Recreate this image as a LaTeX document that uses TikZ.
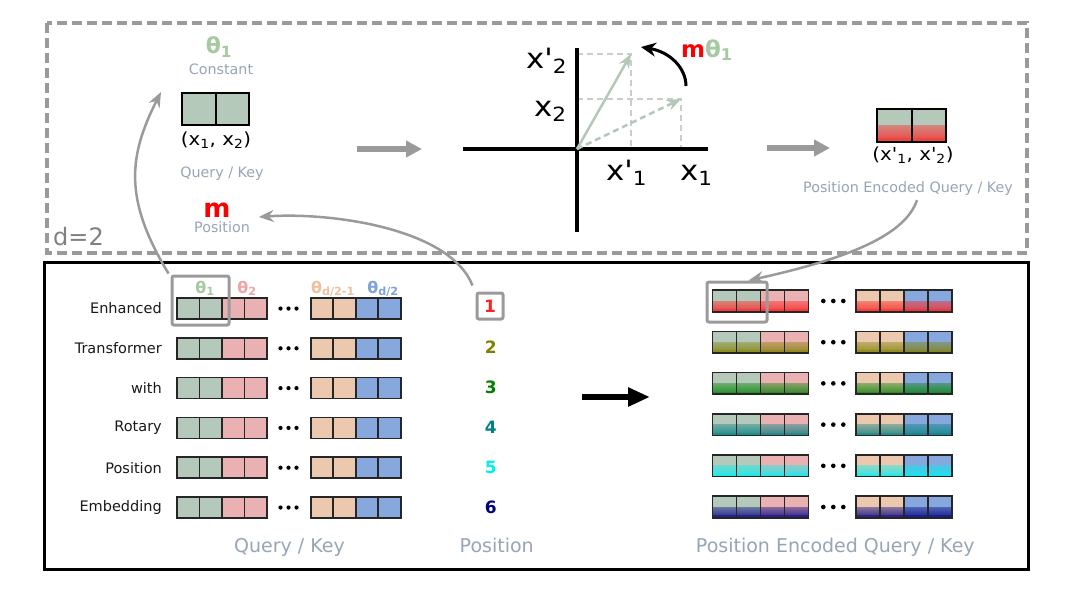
\documentclass[tikz,border=0pt]{standalone}
\usepackage{fontspec}
\setmainfont{DejaVu Sans}
\newfontfamily\plainf{DejaVu Sans}
\usetikzlibrary{arrows.meta,calc}
\definecolor{cg}{HTML}{B5C9BB}
\definecolor{cp}{HTML}{E9B1B1}
\definecolor{co}{HTML}{EBC8AE}
\definecolor{cb}{HTML}{86A8DC}
\definecolor{tg}{HTML}{98A5B6}
\definecolor{thg}{HTML}{A6C9A2}
\definecolor{thp}{HTML}{EDA5A5}
\definecolor{tho}{HTML}{EEC0A0}
\definecolor{thb}{HTML}{7FA2DC}
\definecolor{frm}{HTML}{9A9A9A}
\definecolor{dsh}{HTML}{CCCCCC}
\definecolor{vec}{HTML}{B3C8B9}
\definecolor{pa}{HTML}{FF2020}
\definecolor{pb}{HTML}{808000}
\definecolor{pc}{HTML}{008000}
\definecolor{pd}{HTML}{008080}
\definecolor{pe}{HTML}{00F0F0}
\definecolor{pf}{HTML}{000080}
\newcommand\myfs[1]{\fontsize{#1}{#1}\selectfont}
\newcommand\wide[1]{\scalebox{1.1}[1]{\plainf #1}}
\tikzset{
  cell/.style={draw=black!85, line width=1.6pt, inner sep=0pt, minimum width=22.5pt, minimum height=21pt},
  pcell/.style={draw=black!85, line width=1.6pt, inner sep=0pt, minimum width=24pt, minimum height=21.7pt},
  tcell/.style={draw=black, line width=2pt, inner sep=0pt, minimum width=33.5pt, minimum height=32pt},
  gcell/.style 2 args={fill=#1, path picture={
     \shade[top color=#1, bottom color=#2]
        (path picture bounding box.west) rectangle
        ($(path picture bounding box.south east)!0.12!(path picture bounding box.north east)$);
     \fill[#2] ($(path picture bounding box.south west)!0.125!(path picture bounding box.north west)$)
        rectangle (path picture bounding box.south east);}},
  lbl/.style={font=\myfs{14.3}, text=tg, inner sep=0pt, anchor=base},
  biglbl/.style={font=\myfs{19}, text=tg, inner sep=0pt, anchor=base},
  rowlbl/.style={font=\myfs{14.5}, text=black!90, anchor=east, inner sep=0pt},
  poslbl/.style={font=\myfs{17}\bfseries, inner sep=0pt},
  thlbl/.style={font=\myfs{16}\bfseries, inner sep=0pt, anchor=base},
  axis/.style={line width=4pt, black},
  guide/.style={dsh, line width=2.5pt, dash pattern=on 6pt off 4pt},
  curvearrow/.style={frm, line width=2.5pt, -{Stealth[length=15pt,width=12pt]}},
  fatgray/.style={frm, line width=5.5pt, -{Triangle[length=16pt,width=16pt]}},
  hlbox/.style={draw=frm, line width=3pt, rounded corners=2pt, inner sep=0pt},
  dotfill/.style={fill=black}
}
\begin{document}
\begin{tikzpicture}[x=1pt,y=-1pt]
\useasboundingbox (0,0) rectangle (1069,611);
\fill[white] (0,0) rectangle (1069,611);

% ---------- frames ----------
\draw[frm, line width=3.5pt, dash pattern=on 10pt off 5pt] (47,23) rectangle (1027,253);
\draw[black, line width=3pt] (44,262) rectangle (1028,569);
\node[font=\myfs{24}, text=black!50, anchor=base west, inner sep=0pt] (dlbl) at (53,245) {d=2};

% ---------- top left: query/key with theta ----------
\node[font=\myfs{22}\bfseries, text=thg, anchor=base, inner sep=0pt] (th1) at (219,53) {θ\textsubscript{1}};
\node[lbl] (const) at (221,74) {Constant};
\node[tcell, fill=cg] (qk1) at (198.75,109) {};
\node[tcell, fill=cg] (qk2) at (232.25,109) {};
\node[font=\myfs{18}, anchor=base, inner sep=0pt] (xx) at (216,145) {\wide{(x\textsubscript{1}, x\textsubscript{2})}};
\node[lbl] (qklbl) at (222,177) {Query / Key};
\node[font=\myfs{26}\bfseries, text=red, anchor=base, inner sep=0pt] (mm) at (217,217) {m};
\node[lbl] (poslbltop) at (222,232) {Position};

% ---------- rotation ----------
\coordinate (O) at (577,149);
\coordinate (hl) at (463,149);
\coordinate (hr) at (708,149);
\coordinate (vt) at (577,48);
\coordinate (vb) at (577,232);
\coordinate (P) at (631,54);
\coordinate (Q) at (681,99);
\draw[guide] (577,54) -| (631,149);
\draw[guide] (577,99) -| (681,149);
\draw[axis] (hl) -- (hr);
\draw[axis] (vt) -- (vb);
\draw[vec, line width=2.5pt, dash pattern=on 6pt off 4pt, -{Stealth[length=14pt,width=11pt]}] (O) -- (Q);
\draw[vec, line width=2.5pt, -{Stealth[length=14pt,width=11pt]}] (O) -- (P);
\node[font=\myfs{28}, anchor=base west, inner sep=0pt] (lx2p) at (526,68) {\wide{x'\textsubscript{2}}};
\node[font=\myfs{28}, anchor=base west, inner sep=0pt] (lx2) at (534,116) {\wide{x\textsubscript{2}}};
\node[font=\myfs{28}, anchor=base west, inner sep=0pt] (lx1p) at (606,180) {\wide{x'\textsubscript{1}}};
\node[font=\myfs{28}, anchor=base west, inner sep=0pt] (lx1) at (680,180) {\wide{x\textsubscript{1}}};
\node[font=\myfs{23}\bfseries, anchor=base west, inner sep=0pt] (mth) at (681,57) {\textcolor{red}{m}\textcolor{thg}{θ\textsubscript{1}}};
\coordinate (rs) at (686,86);
\coordinate (re) at (641,47);
\draw[black, line width=3pt, -{Stealth[length=15pt,width=14pt]}] (rs) .. controls (686,68) and (670,52) .. (re);

% ---------- top arrows ----------
\coordinate (a1s) at (357,149);
\coordinate (a1e) at (422,149);
\coordinate (a2s) at (767,148);
\coordinate (a2e) at (830,148);
\draw[fatgray] (a1s) -- (a1e);
\draw[fatgray] (a2s) -- (a2e);

% ---------- top right encoded ----------
\node[tcell, minimum width=34.5pt, minimum height=33pt, gcell={cg}{pa!80!cg}] (pe1) at (894.25,125.5) {};
\node[tcell, minimum width=34.5pt, minimum height=33pt, gcell={cg}{pa!80!cg}] (pe2) at (928.75,125.5) {};
\node[font=\myfs{18}, anchor=base, inner sep=0pt] (xxp) at (913,160) {\wide{(x'\textsubscript{1}, x'\textsubscript{2})}};
\node[lbl] (pelbltop) at (908,192) {Position Encoded Query / Key};

% ---------- bottom left: query / key rows ----------
\foreach \r/\txt [evaluate=\r as \yc using 308.5+39.8*\r] in {0/Enhanced,1/Transformer,2/with,3/Rotary,4/Position,5/Embedding} {
  \node[rowlbl] (row-\r) at (162,\yc) {\txt};
  \foreach \c/\col in {0/cg,1/cg,2/cp,3/cp} {
    \node[cell, fill=\col] (ql-\r-\c) at ({188.2+22.5*\c},\yc) {};
  }
  \foreach \c/\col in {0/co,1/co,2/cb,3/cb} {
    \node[cell, fill=\col] (qr-\r-\c) at ({322+22.5*\c},\yc) {};
  }
  \foreach \dx in {280.5,288.5,296.5} { \fill[dotfill] (\dx,\yc) circle (2.1pt); }
}
\node[thlbl, text=thg] (t1) at (205,293) {θ\textsubscript{1}};
\node[thlbl, text=thp] (t2) at (247,293) {θ\textsubscript{2}};
\node[thlbl, text=tho] (t3) at (333,293) {θ\textsubscript{d/2-1}};
\node[thlbl, text=thb] (t4) at (383,293) {θ\textsubscript{d/2}};
\node[hlbox, minimum width=57pt, minimum height=49pt] (hl1) at (200.5,300.5) {};

% ---------- positions ----------
\foreach \r/\pcol [evaluate=\r as \yc using 307+40.1*\r, evaluate=\r as \num using int(\r+1)] in {1/pb,2/pc,3/pd,4/pe,5/pf} {
  \node[poslbl, text=\pcol] (n\num) at (490.7,\yc) {\num};
}
\node[poslbl, text=pa, draw=frm, line width=3pt, rounded corners=2pt, minimum width=26pt, minimum height=26pt] (n1) at (490,306) {1};

% ---------- big black arrow ----------
\coordinate (bas) at (582,397);
\coordinate (bae) at (650,397);
\draw[black, line width=6pt, -{Triangle[length=22pt,width=18pt]}] (bas) -- (bae);

% ---------- bottom right: encoded rows ----------
\foreach \r/\pcol [evaluate=\r as \yc using 301+41.2*\r] in {0/pa,1/pb,2/pc,3/pd,4/pe,5/pf} {
  \foreach \c/\col in {0/cg,1/cg,2/cp,3/cp} {
    \node[pcell, gcell={\col}{\pcol!82!\col}] (el-\r-\c) at ({724.3+24*\c},\yc) {};
  }
  \foreach \c/\col in {0/co,1/co,2/cb,3/cb} {
    \node[pcell, gcell={\col}{\pcol!82!\col}] (er-\r-\c) at ({867.7+24*\c},\yc) {};
  }
  \foreach \dx in {823.3,833.3,843.3} { \fill[dotfill] (\dx,\yc) circle (2.3pt); }
}
\node[hlbox, minimum width=60pt, minimum height=40pt] (hl2) at (737,302) {};

% ---------- bottom labels ----------
\node[biglbl] (qkb) at (289.5,552) {Query / Key};
\node[biglbl] (posb) at (496.7,552) {Position};
\node[biglbl] (peb) at (835.3,552) {Position Encoded Query / Key};

% ---------- curved connectors ----------
\draw[curvearrow] ([shift={(-2,-1)}]hl1.north west) .. controls (124,200) and (128,157) .. ([shift={(-20,-17)}]qk1.west);
\draw[curvearrow] ([shift={(-3,-6)}]n1.north west) .. controls (450,228) and (330,212) .. ([shift={(28,0)}]mm.base east);
\draw[curvearrow] ([shift={(9,5)}]pelbltop.south) .. controls (905,235) and (850,258) .. ([shift={(43,0)}]hl2.north west);
\end{tikzpicture}
\end{document}
